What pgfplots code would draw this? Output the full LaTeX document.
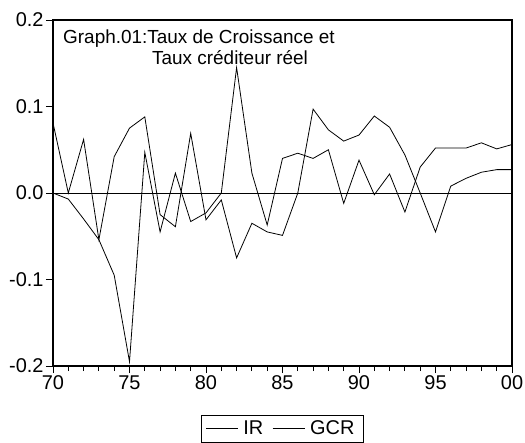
\documentclass[border=0pt]{standalone}
\usepackage{pgfplots}
\pgfplotsset{compat=1.18}
\usepackage{fontspec}
\setmainfont{Liberation Sans}
\begin{document}
\begin{tikzpicture}
\begin{axis}[
 scale only axis, width=459bp, height=346bp,
 xmin=70, xmax=100, ymin=-0.2, ymax=0.2,
 xtick={70,75,...,100}, xticklabels={70,75,80,85,90,95,00},
 minor x tick num=4,
 ytick={-0.2,-0.1,0,0.1,0.2}, yticklabels={-0.2,-0.1,0.0,0.1,0.2},
 tick align=outside, xtick pos=bottom, ytick pos=left,
 major tick length=7bp, minor tick length=5bp,
 axis line style={line width=1.1pt},
 tick style={line width=0.9pt, black},
 ticklabel style={font=\fontsize{20}{23}\selectfont},
 yticklabel style={xshift=1bp},
 xticklabel style={yshift=1bp},
 legend style={at={(0.5,-0.142)}, anchor=north, legend columns=2, draw=black, line width=0.9pt,
   font=\fontsize{20}{23}\selectfont, inner ysep=2.5bp, inner xsep=4bp,
   nodes={inner xsep=5bp, inner ysep=3bp},
   /tikz/every even column/.append style={column sep=4bp}},
 legend image code/.code={\draw[#1] (0bp,0bp) -- (32bp,0bp);},
 clip=false,
]
\addplot[black, line width=0.9pt, forget plot] coordinates {(70,0) (100,0)};
\addplot[black, line width=0.8pt] coordinates {
(70,0.081) (71,0.0) (72,0.062) (73,-0.054) (74,0.042) (75,0.075) (76,0.088) (77,-0.025)
(78,-0.039) (79,0.069) (80,-0.031) (81,-0.008) (82,-0.075) (83,-0.035) (84,-0.045) (85,-0.049)
(86,0.0) (87,0.097) (88,0.073) (89,0.060) (90,0.067) (91,0.089) (92,0.076) (93,0.044)
(94,0.0) (95,-0.045) (96,0.008) (97,0.017) (98,0.024) (99,0.027) (100,0.027)};
\addlegendentry{IR}
\addplot[black, line width=0.8pt] coordinates {
(70,0.0) (71,-0.007) (72,-0.030) (73,-0.054) (74,-0.095) (75,-0.195) (76,0.047) (77,-0.045)
(78,0.023) (79,-0.033) (80,-0.023) (81,0.0) (82,0.145) (83,0.023) (84,-0.037) (85,0.040)
(86,0.046) (87,0.040) (88,0.050) (89,-0.012) (90,0.038) (91,-0.002) (92,0.022) (93,-0.022)
(94,0.030) (95,0.052) (96,0.052) (97,0.052) (98,0.058) (99,0.051) (100,0.056)};
\addlegendentry{GCR}
\node[anchor=base west, font=\fontsize{19}{22}\selectfont, inner sep=0pt] at (rel axis cs:0.0218,0.9335) {Graph.01:Taux de Croissance et};
\node[anchor=base west, font=\fontsize{19}{22}\selectfont, inner sep=0pt] at (rel axis cs:0.2157,0.870) {Taux créditeur réel};
\end{axis}
\pgfresetboundingbox
\path (current axis.south west) ++(-53bp,-77bp) rectangle ++(525bp,443bp);
\end{tikzpicture}
\end{document}
